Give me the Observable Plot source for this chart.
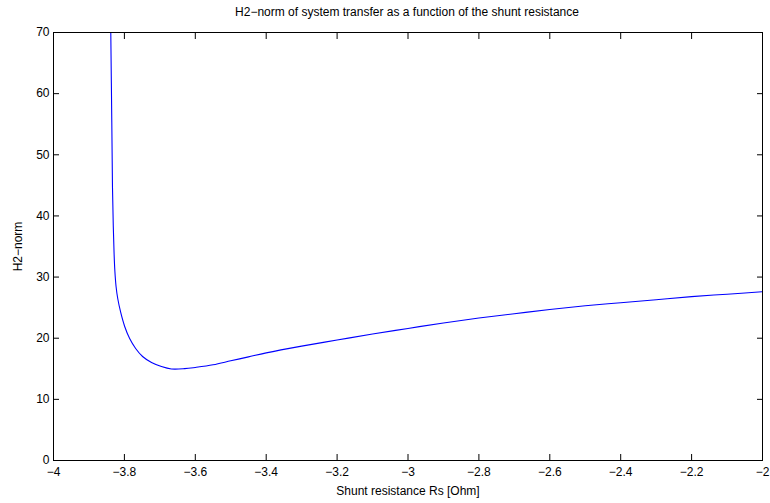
<!DOCTYPE html>
<html>
<head>
<meta charset="utf-8">
<script src="https://cdn.jsdelivr.net/npm/d3@7"></script>
<script src="https://cdn.jsdelivr.net/npm/@observablehq/plot@0.6"></script>
<style>
  html, body { margin: 0; padding: 0; background: #fff; }
  #title { height: 22px; width: 770px; font: 12px "Liberation Sans", Arial, sans-serif; color: #000;
           text-align: center; line-height: 24px; padding-left: 44px; box-sizing: border-box; overflow: visible; }
  svg { display: block; }
</style>
</head>
<body>
<div id="title">H2−norm of system transfer as a function of the shunt resistance</div>
<div id="chart"></div>
<script>
const titleText = "H2−norm of system transfer as a function of the shunt resistance";
const xLabel = "Shunt resistance Rs [Ohm]";
const yLabel = "H2−norm";

// Shunt resistance Rs [Ohm]
const rs = [-3.8384, -3.8356, -3.8336, -3.8314, -3.8291, -3.8268, -3.8236, -3.8188, -3.8104, -3.7992, -3.7852, -3.7683, -3.7487, -3.7235, -3.6955, -3.6675, -3.63, -3.6, -3.55, -3.5, -3.45, -3.4, -3.3, -3.2, -3.1, -3.0, -2.9, -2.8, -2.7, -2.6, -2.5, -2.4, -2.3, -2.2, -2.1, -2.0];
// H2-norm
const h2 = [70, 55.6, 44.65, 38.4, 33.86, 30.9, 28.5, 26.5, 24.21, 21.92, 19.95, 18.32, 17.01, 16.03, 15.37, 14.97, 15.02, 15.22, 15.65, 16.3, 16.95, 17.6, 18.7, 19.7, 20.7, 21.6, 22.5, 23.3, 24.0, 24.7, 25.3, 25.8, 26.3, 26.8, 27.2, 27.6];

const xTicks = [-4, -3.8, -3.6, -3.4, -3.2, -3, -2.8, -2.6, -2.4, -2.2, -2];
const yTicks = [0, 10, 20, 30, 40, 50, 60, 70];

const data = rs.map((x, i) => ({x, y: h2[i]}));
const fmt = d3.format("");

const chart = Plot.plot({
  width: 770,
  height: 481,
  marginTop: 10,
  marginBottom: 43,
  marginLeft: 53,
  marginRight: 8,
  style: {fontFamily: "'Liberation Sans', Arial, sans-serif", fontSize: "12px", color: "#000", background: "#fff"},
  x: {domain: [-4, -2]},
  y: {domain: [0, 70]},
  marks: [
    Plot.line(data, {x: "x", y: "y", stroke: "#0000ff", strokeWidth: 1.1, curve: "catmull-rom", clip: true}),
    Plot.frame({stroke: "#000", strokeWidth: 1}),
    Plot.axisX({anchor: "bottom", ticks: xTicks, tickFormat: fmt, tickSize: -6, tickPadding: 13,
      label: xLabel, labelAnchor: "center", labelArrow: "none", labelOffset: 34}),
    Plot.axisX({anchor: "top", ticks: xTicks, tickFormat: () => "", tickSize: -6, label: null}),
    Plot.axisY({anchor: "left", ticks: yTicks, tickFormat: fmt, tickSize: -6, tickPadding: 10,
      label: yLabel, labelAnchor: "center", labelArrow: "none", labelOffset: 40}),
    Plot.axisY({anchor: "right", ticks: yTicks, tickFormat: () => "", tickSize: -6, label: null})
  ]
});
document.getElementById("chart").appendChild(chart);
</script>
</body>
</html>
